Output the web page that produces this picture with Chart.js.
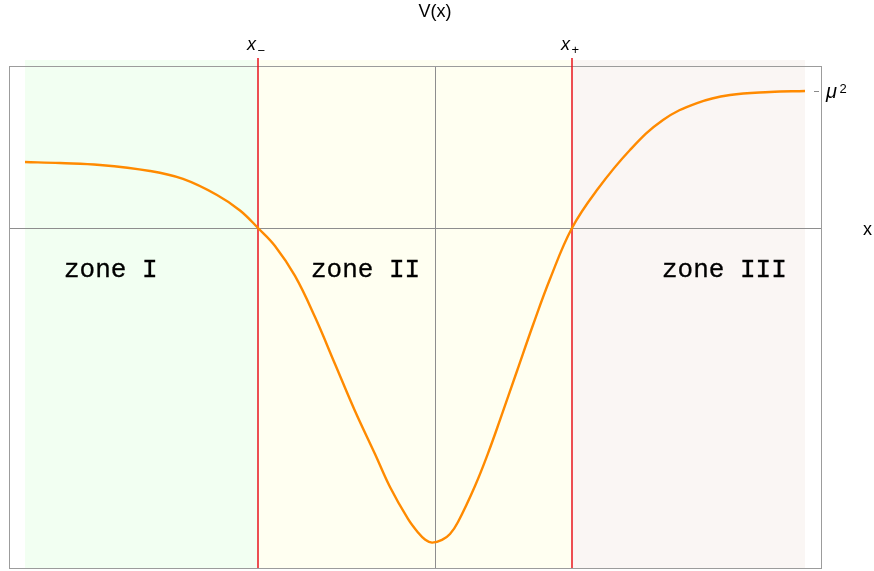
<!DOCTYPE html>
<html>
<head>
<meta charset="utf-8">
<script src="https://cdn.jsdelivr.net/npm/chart.js@4/dist/chart.umd.min.js"></script>
<style>
  html, body { margin: 0; padding: 0; background: #ffffff; }
  #wrap { width: 874px; height: 571px; position: relative; }
</style>
</head>
<body>
<div id="wrap"><canvas id="c"></canvas></div>
<script>
// ---- data ----
const xValues = [-4.10, -3.75, -3.35, -2.85, -2.52, -2.18, -1.95, -1.77, -1.60, -1.40, -1.20, -1.00, -0.80, -0.60, -0.45, -0.27, -0.17, -0.10, -0.03, 0.07, 0.15, 0.23, 0.40, 0.53, 0.65, 0.82, 0.98, 1.15, 1.37, 1.62, 1.95, 2.28, 2.62, 2.95, 3.35, 3.70];
const vValues = [0.482, 0.474, 0.460, 0.416, 0.358, 0.241, 0.128, 0.000, -0.131, -0.350, -0.650, -0.993, -1.336, -1.650, -1.891, -2.124, -2.223, -2.274, -2.297, -2.277, -2.234, -2.146, -1.883, -1.645, -1.401, -1.044, -0.708, -0.372, 0.000, 0.277, 0.569, 0.788, 0.912, 0.971, 0.993, 1.000];
const zoneEdges = [-4.10, -1.77, 1.37, 3.70];
const zoneNames = ['zone I', 'zone II', 'zone III'];
const zoneColors = ['#f2fff2', '#fffff1', '#faf6f4'];
const zoneLabelX = [-3.71, -1.24, 2.27];
const zoneLabelY = -0.358;
const turningX = [-1.77, 1.37];
const turningSub = ['\u2212', '+'];
const muSquared = 1.0;
const xRange = [-4.26, 3.86];
const yRange = [-2.482, 1.1825];

const decor = {
  id: 'decor',
  beforeDatasetsDraw(chart) {
    const ctx = chart.ctx, xs = chart.scales.x, ys = chart.scales.y, a = chart.chartArea;
    ctx.save();
    for (let i = 0; i < zoneNames.length; i++) {
      const x0 = xs.getPixelForValue(zoneEdges[i]);
      const x1 = xs.getPixelForValue(zoneEdges[i + 1]);
      ctx.fillStyle = zoneColors[i];
      ctx.fillRect(x0, a.top - 6, x1 - x0, a.bottom - a.top + 7);
    }
    ctx.strokeStyle = '#8e8e8e';
    ctx.lineWidth = 1;
    const y0 = Math.round(ys.getPixelForValue(0)) + 0.5;
    const x0 = Math.round(xs.getPixelForValue(0)) + 0.5;
    ctx.beginPath();
    ctx.moveTo(a.left, y0); ctx.lineTo(a.right, y0);
    ctx.moveTo(x0, a.top); ctx.lineTo(x0, a.bottom);
    ctx.stroke();
    ctx.strokeStyle = '#9c9c9c';
    ctx.strokeRect(Math.round(a.left) + 0.5, Math.round(a.top) + 0.5, Math.round(a.right - a.left), Math.round(a.bottom - a.top));
    const ym = Math.round(ys.getPixelForValue(muSquared)) + 0.5;
    ctx.strokeStyle = '#8a8a8a';
    ctx.beginPath();
    ctx.moveTo(a.right - 7, ym); ctx.lineTo(a.right - 2, ym);
    ctx.stroke();
    ctx.strokeStyle = '#e8141c';
    ctx.lineWidth = 1.5;
    for (const t of turningX) {
      const px = xs.getPixelForValue(t);
      ctx.beginPath();
      ctx.moveTo(px, a.top - 8); ctx.lineTo(px, a.bottom);
      ctx.stroke();
    }
    ctx.restore();
  },
  afterDatasetsDraw(chart) {
    const ctx = chart.ctx, xs = chart.scales.x, ys = chart.scales.y, a = chart.chartArea;
    ctx.save();
    ctx.fillStyle = '#000000';
    ctx.strokeStyle = '#000000';
    // zone labels (Courier-like monospace)
    ctx.font = "26px 'Liberation Mono'";
    ctx.textAlign = 'left';
    ctx.textBaseline = 'alphabetic';
    ctx.lineWidth = 0.3;
    const yb = ys.getPixelForValue(zoneLabelY);
    for (let i = 0; i < zoneNames.length; i++) {
      const px = xs.getPixelForValue(zoneLabelX[i]);
      ctx.fillText(zoneNames[i], px, yb);
      ctx.strokeText(zoneNames[i], px, yb);
    }
    // title V(x)
    ctx.textAlign = 'center';
    ctx.font = "18px 'Liberation Sans'";
    ctx.fillText('V(x)', xs.getPixelForValue(0), 17);
    // turning point labels
    ctx.textAlign = 'left';
    for (let i = 0; i < turningX.length; i++) {
      const px = xs.getPixelForValue(turningX[i]);
      ctx.font = "italic 18px 'Liberation Sans'";
      ctx.fillText('x', px - 11, 50);
      ctx.font = "13px 'Liberation Sans'";
      ctx.fillText(turningSub[i], px - 0.5, i === 0 ? 55 : 54);
    }
    // mu^2 label
    const ym = ys.getPixelForValue(muSquared);
    ctx.font = "italic 20px 'Liberation Sans'";
    ctx.fillText('\u03bc', a.right + 5, ym + 7);
    ctx.font = "13px 'Liberation Sans'";
    ctx.fillText('2', a.right + 18.5, ym + 1.5);
    // x axis label
    ctx.font = "18px 'Liberation Sans'";
    ctx.fillText('x', a.right + 42, ys.getPixelForValue(0) + 7);
    ctx.restore();
  }
};

new Chart(document.getElementById('c'), {
  type: 'scatter',
  data: {
    datasets: [{
      data: xValues.map((x, i) => ({ x: x, y: vValues[i] })),
      showLine: true,
      borderColor: '#ff8a00',
      borderWidth: 2.4,
      pointRadius: 0,
      tension: 0.4,
      fill: false
    }]
  },
  options: {
    responsive: true,
    maintainAspectRatio: false,
    devicePixelRatio: 1,
    animation: false,
    layout: { padding: { left: 9, right: 53, top: 66, bottom: 3 } },
    plugins: { legend: { display: false }, tooltip: { enabled: false }, title: { display: false } },
    scales: {
      x: { type: 'linear', min: xRange[0], max: xRange[1], display: false },
      y: { type: 'linear', min: yRange[0], max: yRange[1], display: false }
    }
  },
  plugins: [decor]
});
</script>
</body>
</html>
